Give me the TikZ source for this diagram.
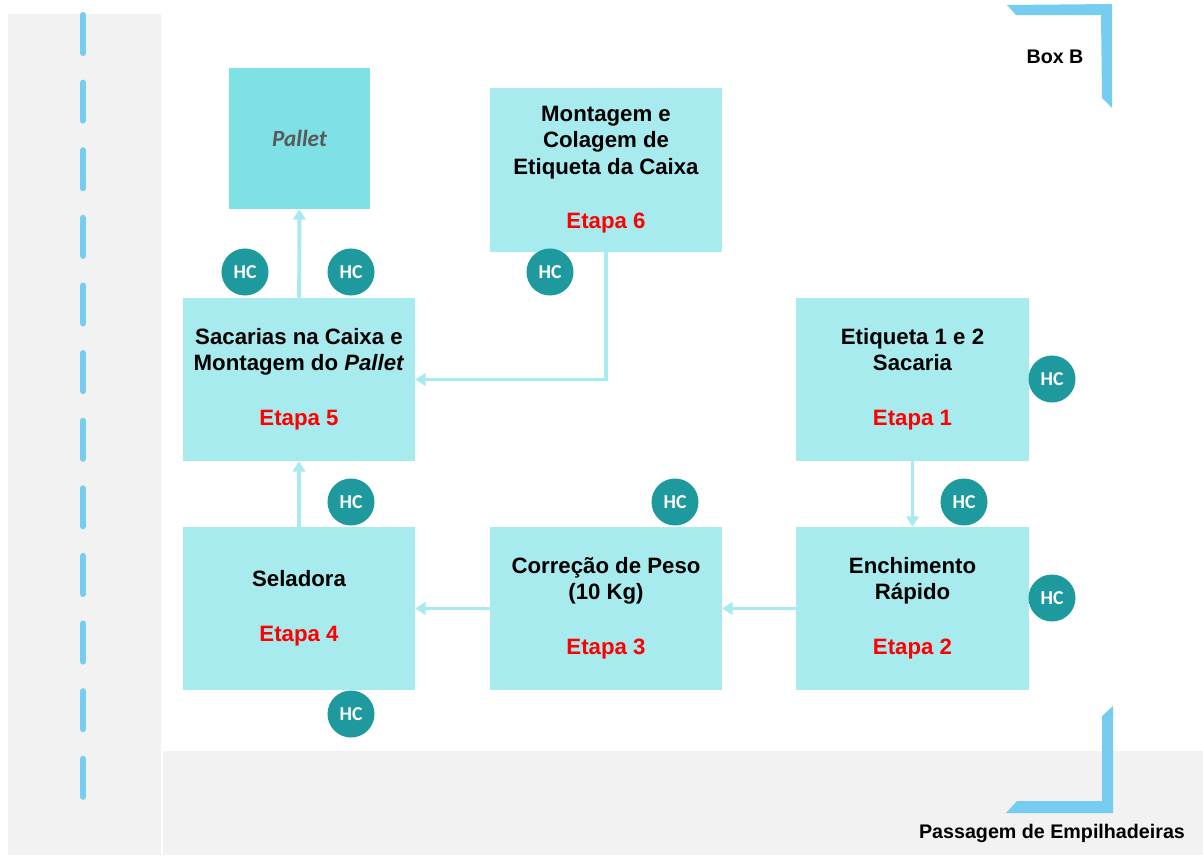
\documentclass[tikz,border=0pt]{standalone}
\usepackage{xcolor}
\usepackage{fontspec}
\setmainfont{Liberation Sans}
\newfontfamily\hcfont{Carlito}
\usepackage{tikz}
\usetikzlibrary{arrows.meta, positioning}
\definecolor{caixa}{HTML}{A8EBEE}
\definecolor{palete}{HTML}{7DE1E6}
\definecolor{hcteal}{HTML}{1E9A9E}
\definecolor{faixacinza}{HTML}{F2F2F2}
\definecolor{azulvia}{HTML}{76CDEF}
\definecolor{textocinza}{HTML}{595959}
\newcommand{\etapa}[1]{\textcolor{red}{Etapa #1}}
\tikzset{
    etapa_box/.style={
        rectangle, minimum width=5.8cm, minimum height=4.075cm, inner sep=0pt,
        align=center, fill=caixa, font=\fontsize{15.8}{18.6}\selectfont\bfseries
    },
    pallet_box/.style={
        rectangle, minimum size=3.525cm, inner sep=0pt,
        align=center, fill=palete, text=textocinza, font=\hcfont\fontsize{16.5}{19}\selectfont\bfseries\itshape
    },
    hc_node/.style={
        circle, minimum size=1.175cm, inner sep=0pt, fill=hcteal, text=white,
        font=\hcfont\fontsize{14}{16}\selectfont\bfseries
    },
    rotulo/.style={
        inner sep=0pt, font=\fontsize{14}{17}\selectfont\bfseries
    },
    arrow/.style={
        line width=2.8pt, -{Triangle[length=0.26cm, width=0.32cm]}, draw=caixa
    },
    via/.style={
        line width=4.3pt, line cap=round, draw=azulvia, dash pattern=on 0.95cm off 0.74cm
    }
}

\begin{document}
\begin{tikzpicture}[x=0.025cm, y=-0.025cm]
    \useasboundingbox (0,0) rectangle (1203,855);

    % Faixas cinzentas e marcacoes
    \fill[faixacinza] (8,14) rectangle (161,855);
    \fill[faixacinza] (163,751) rectangle (1203,855);
    \draw[via] (83,15) -- (83,800);
    \fill[azulvia] (1007,5) -- (1112,4) -- (1112,108) -- (1102,98) -- (1101,15) -- (1016,15) -- cycle;
    \fill[azulvia] (1113,706) -- (1113,813) -- (1006,813) -- (1017,801) -- (1102,801) -- (1102,716) -- cycle;
    \node[rotulo] (boxb) at (1055,57) {Box B};
    \node[rotulo] (passagem) at (1052,833) {Passagem de Empilhadeiras};

    % Etapas
    \node[pallet_box] (pallet) at (299.5,138.5) {Pallet};
    \node[etapa_box] (montagem) at (606,170) {Montagem e\\Colagem de\\Etiqueta da Caixa\\[20.5pt]\etapa{6}};
    \node[etapa_box] (sacaria) at (299,379.5) {Sacarias na Caixa e\\Montagem do \textit{Pallet}\\[20.5pt]\etapa{5}};
    \node[etapa_box] (etiqueta) at (912.5,379.5) {Etiqueta 1 e 2\\Sacaria\\[20.5pt]\etapa{1}};
    \node[etapa_box] (seladora) at (299,608.5) {Seladora\\[20.5pt]\etapa{4}};
    \node[etapa_box] (correcao) at (606,608.5) {Correção de Peso\\(10 Kg)\\[20.5pt]\etapa{3}};
    \node[etapa_box] (enchim) at (912.5,608.5) {Enchimento\\Rápido\\[20.5pt]\etapa{2}};

    % Pontos HC
    \node[hc_node] (hc1) at (245,272) {HC};
    \node[hc_node] (hc2) at (351,272) {HC};
    \node[hc_node] (hc3) at (550,272) {HC};
    \node[hc_node] (hc4) at (1052,379) {HC};
    \node[hc_node] (hc5) at (964,502) {HC};
    \node[hc_node] (hc6) at (675,502) {HC};
    \node[hc_node] (hc7) at (351,502) {HC};
    \node[hc_node] (hc8) at (1052,598) {HC};
    \node[hc_node] (hc9) at (351,714) {HC};

    \draw[arrow] (etiqueta) -- (enchim);
    \draw[arrow] (enchim) -- (correcao);
    \draw[arrow] (correcao) -- (seladora);
    \draw[arrow] (seladora) -- (sacaria);
    \draw[arrow] (montagem.south) |- (sacaria.east);
    \draw[arrow] (sacaria) -- (pallet);
\end{tikzpicture}
\end{document}
